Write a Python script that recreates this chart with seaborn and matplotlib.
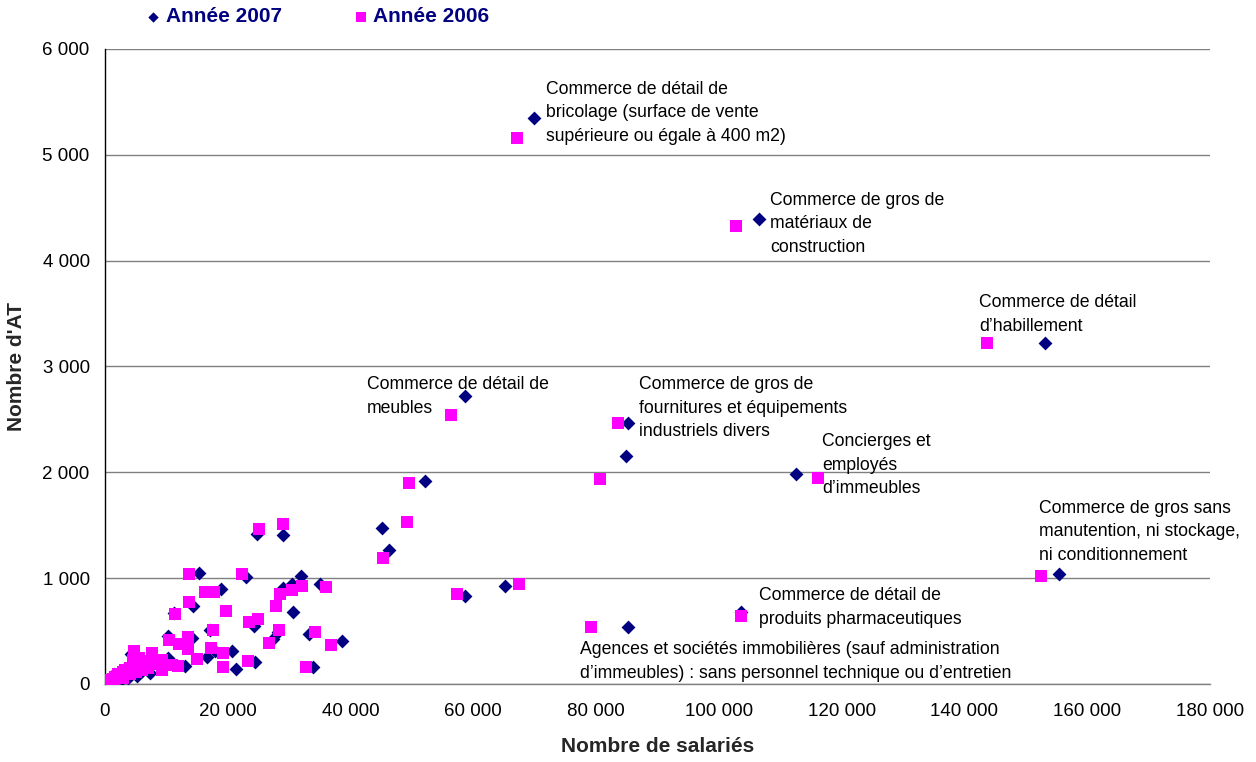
import matplotlib
matplotlib.use("Agg")
import matplotlib.pyplot as plt
from matplotlib.ticker import FuncFormatter
import seaborn as sns
import pandas as pd

# ---- data ----
x_2007 = [69900, 106500, 153200, 58640, 85200, 84900, 112560, 155400, 103600, 85190,
          58700, 65160, 52130, 46300, 45050, 35100, 38550, 33900, 33200, 30600,
          31930, 29040, 24690, 15370, 22970, 18830, 29040, 30510, 14260, 11170,
          24330, 17100, 28110, 10310, 14210, 27420, 20740, 17920, 16670, 24430,
          13030, 21270, 6940, 10310, 4180, 7330,
          300, 800, 1200, 1500, 2000, 2500, 3000, 3500, 4000, 4500,
          5000, 5500, 6000, 6500, 2800, 1000, 3800, 5200, 200, 600]
y_2007 = [5350, 4395, 3223, 2720, 2465, 2150, 1985, 1040, 680, 539,
          835, 922, 1920, 1266, 1470, 943, 408, 163, 473, 685,
          1022, 1408, 1415, 1046, 1008, 898, 911, 942, 740, 674,
          548, 510, 494, 457, 432, 422, 312, 312, 258, 211,
          170, 139, 233, 249, 281, 104,
          20, 40, 60, 90, 70, 110, 130, 100, 150, 180,
          140, 190, 120, 170, 50, 15, 60, 80, 5, 30]

x_2006 = [67110, 102790, 143670, 56290, 83490, 49570, 80630, 116140, 49130, 152470,
          103600, 79170, 67440, 57390, 45350, 28930, 25080, 13740, 22250, 16290,
          17810, 13740, 19710, 11400, 23460, 24970, 17640, 10410, 13450, 12100,
          13560, 17260, 19270, 15020, 23340, 19270, 26750, 28380, 27850, 28510,
          30390, 32020, 36000, 34210, 36810, 32740, 4720, 7600, 9220, 10850,
          11940, 9220,
          0, 200, 500, 900, 1300, 1700, 2100, 2500, 2900, 3300,
          3700, 4100, 4500, 4900, 5300, 5700, 6100, 6500, 7000, 1500,
          3000, 4000, 5000, 6000, 7300, 4500, 5500]
y_2006 = [5160, 4330, 3223, 2543, 2464, 1897, 1935, 1947, 1531, 1021,
          640, 539, 942, 848, 1194, 1509, 1465, 1040, 1040, 873,
          873, 778, 693, 659, 589, 614, 510, 416, 448, 375,
          328, 337, 296, 233, 217, 164, 385, 510, 740, 851,
          888, 926, 915, 492, 366, 162, 315, 290, 227, 180,
          170, 132,
          0, 10, 25, 40, 50, 70, 90, 80, 110, 130,
          120, 150, 160, 140, 180, 200, 170, 220, 150, 20,
          60, 90, 110, 130, 190, 230, 250]

series_labels = ["Année 2007", "Année 2006"]
x_ticks = [0, 20000, 40000, 60000, 80000, 100000, 120000, 140000, 160000, 180000]
y_ticks = [0, 1000, 2000, 3000, 4000, 5000, 6000]

annotations = [
    ("Commerce de détail de\nbricolage (surface de vente\nsupérieure ou égale à 400 m2)", 71800, 5700),
    ("Commerce de gros de\nmatériaux de\nconstruction", 108300, 4650),
    ("Commerce de détail\nd\u2019habillement", 142400, 3685),
    ("Commerce de détail de\nmeubles", 42700, 2910),
    ("Commerce de gros de\nfournitures et équipements\nindustriels divers", 87000, 2910),
    ("Concierges et\nemployés\nd\u2019immeubles", 116800, 2370),
    ("Commerce de gros sans\nmanutention, ni stockage,\nni conditionnement", 152100, 1740),
    ("Commerce de détail de\nproduits pharmaceutiques", 106500, 915),
    ("Agences et sociétés immobilières (sauf administration\nd\u2019immeubles) : sans personnel technique ou d\u2019entretien", 77400, 405),
]

df07 = pd.DataFrame({"x": x_2007, "y": y_2007})
df06 = pd.DataFrame({"x": x_2006, "y": y_2006})

sns.set_style("white")
plt.rcParams["font.family"] = ["Liberation Sans", "DejaVu Sans"]

fig = plt.figure(figsize=(12.56, 7.62), dpi=100)
ax = fig.add_axes([105 / 1256, 1 - 684 / 762, (1210 - 105) / 1256, (684 - 49) / 762])

sns.scatterplot(data=df07, x="x", y="y", ax=ax, marker="D", s=50, color="#000080",
                edgecolor="#000080", linewidth=0, label=series_labels[0], zorder=3)
sns.scatterplot(data=df06, x="x", y="y", ax=ax, marker="s", s=85, color="#FF00FF",
                edgecolor="#FF00FF", linewidth=0, label=series_labels[1], zorder=4)

ax.set_xlim(0, 180000)
ax.set_ylim(0, 6000)
ax.set_xticks(x_ticks)
ax.set_yticks(y_ticks)
fmt = FuncFormatter(lambda v, p: f"{int(v):,}".replace(",", " "))
ax.xaxis.set_major_formatter(fmt)
ax.yaxis.set_major_formatter(fmt)

ax.grid(axis="y", color="#808080", linewidth=1.0)
ax.grid(axis="x", visible=False)
ax.set_axisbelow(True)
for side in ["top", "right"]:
    ax.spines[side].set_visible(False)
ax.spines["left"].set_color("#000000")
ax.spines["bottom"].set_color("#808080")
ax.spines["left"].set_linewidth(1.0)
ax.spines["bottom"].set_linewidth(1.0)
ax.tick_params(axis="both", direction="out", length=5, width=1, colors="#000000",
               labelsize=13.5, pad=6)
ax.tick_params(axis="x", colors="#808080", labelcolor="#000000", pad=9)

ax.set_xlabel("Nombre de salariés", fontsize=15, fontweight="bold", labelpad=12)
ax.set_ylabel("Nombre d'AT", fontsize=15, fontweight="bold", labelpad=12)

for txt, tx, ty in annotations:
    ax.text(tx, ty, txt, fontsize=12.7, ha="left", va="top", linespacing=1.5,
            color="#000000", zorder=5)

ax.get_legend().remove()
handles, labels = ax.get_legend_handles_labels()
leg = fig.legend(handles, labels, loc="center left", bbox_to_anchor=(128 / 1256, 1 - 17 / 762),
                 ncol=2, frameon=False, handlelength=0.6, handletextpad=0.3,
                 columnspacing=3.5, markerscale=0.75,
                 prop={"size": 15, "weight": "bold"})
for t in leg.get_texts():
    t.set_color("#000080")

fig.savefig("out.png", dpi=100)
